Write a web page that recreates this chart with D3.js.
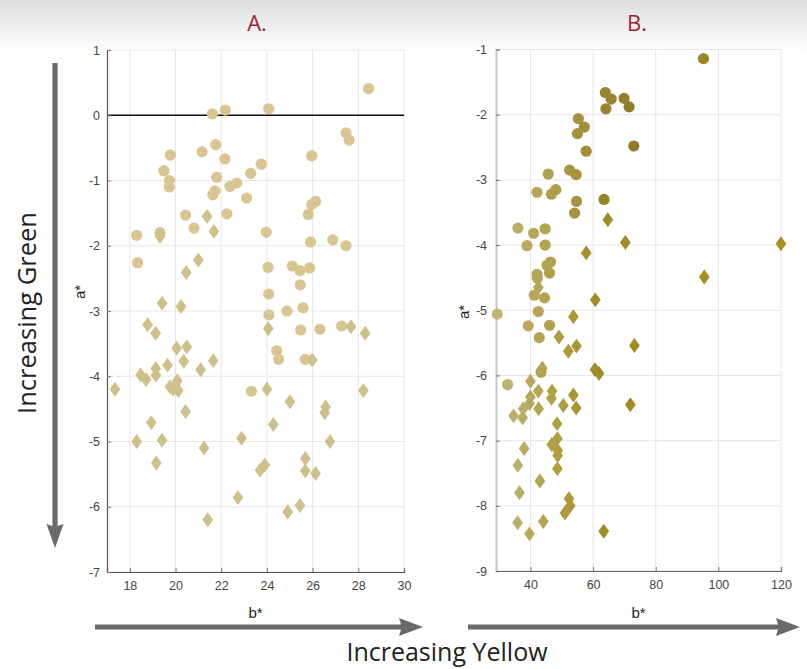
<!DOCTYPE html>
<html><head><meta charset="utf-8">
<script src="https://cdn.jsdelivr.net/npm/d3@7"></script>
<style>body{margin:0;background:#fff}svg{display:block}</style>
</head><body>
<svg id="c" width="807" height="669"></svg>
<script>
// ---------- DATA ----------
const titles = ["A.", "B."];
const xTicksA = [18, 20, 22, 24, 26, 28, 30];
const yTicksA = [1, 0, -1, -2, -3, -4, -5, -6, -7];
const xTicksB = [40, 60, 80, 100, 120];
const yTicksB = [-1, -2, -3, -4, -5, -6, -7, -8, -9];

// Panel A: circles
const aCircB = [28.45,21.61,22.18,24.08,27.46,27.60,19.77,21.16,21.76,22.16,25.96,19.49,19.73,19.73,21.8,23.75,23.29,22.68,22.38,21.73,21.63,23.11,26.13,25.96,25.81,20.44,22.25,18.30,19.32,20.81,23.97,25.91,26.88,27.46,18.34,24.05,25.11,25.45,25.87,25.46,24.08,24.88,25.58,24.09,25.48,26.32,27.27,24.43,24.51,25.68,23.32];
const aCircA = [0.41,0.02,0.08,0.10,-0.27,-0.38,-0.61,-0.56,-0.45,-0.67,-0.62,-0.85,-1.00,-1.10,-0.95,-0.75,-0.89,-1.04,-1.09,-1.16,-1.22,-1.27,-1.32,-1.37,-1.52,-1.53,-1.51,-1.84,-1.80,-1.73,-1.79,-1.94,-1.91,-2.0,-2.26,-2.33,-2.31,-2.38,-2.34,-2.60,-2.74,-3.00,-2.95,-3.06,-3.29,-3.28,-3.23,-3.61,-3.74,-3.74,-4.23];
// Panel A: diamonds
const aDiamB = [21.38,19.32,21.68,21.0,20.47,19.41,20.24,18.78,19.13,24.06,27.68,28.30,20.05,20.49,25.98,20.36,21.65,19.65,19.13,21.10,18.47,18.71,19.14,20.08,17.35,19.76,19.9,20.12,24.0,28.22,25.01,26.57,26.53,20.44,18.94,24.28,22.89,18.30,19.41,26.76,21.25,25.68,19.16,23.91,23.70,25.68,26.13,22.73,25.45,24.91,21.41];
const aDiamA = [-1.55,-1.86,-1.78,-2.22,-2.41,-2.88,-2.93,-3.21,-3.34,-3.27,-3.24,-3.34,-3.57,-3.55,-3.75,-3.77,-3.76,-3.83,-3.88,-3.90,-3.98,-4.05,-3.98,-4.07,-4.20,-4.16,-4.2,-4.22,-4.20,-4.22,-4.39,-4.47,-4.56,-4.54,-4.71,-4.74,-4.95,-5.00,-4.98,-5.00,-5.10,-5.26,-5.33,-5.36,-5.44,-5.45,-5.49,-5.86,-5.98,-6.08,-6.20];

// Panel B: circles
const bCircB = [95.24,63.9,65.8,69.9,71.5,64.1,55.3,57.2,55.0,73.0,57.8,45.7,52.5,54.6,42.1,46.7,48.1,54.7,63.5,54.1,36.0,41.0,44.7,38.9,44.7,46.4,45.3,46.1,42.1,42.2,41.2,44.5,29.4,42.5,39.3,46.1,42.8,43.4,32.7];
const bCircA = [-1.14,-1.66,-1.76,-1.75,-1.88,-1.91,-2.06,-2.19,-2.29,-2.48,-2.56,-2.91,-2.85,-2.92,-3.19,-3.22,-3.15,-3.33,-3.30,-3.51,-3.74,-3.82,-3.75,-4.01,-4.00,-4.26,-4.31,-4.43,-4.45,-4.51,-4.77,-4.81,-5.06,-5.02,-5.24,-5.23,-5.42,-5.95,-6.14];
// Panel B: diamonds
const bDiamB = [64.7,70.3,57.8,120,42.5,95.5,60.7,53.7,49.1,73.2,54.7,52.1,43.8,60.6,61.9,40.0,42.5,46.9,46.7,53.7,50.5,54.6,71.9,40.0,39.7,37.7,42.6,34.6,37.5,48.5,48.6,46.8,48.7,48.7,38.0,36.0,48.6,43.0,36.5,52.3,52.7,51.0,35.9,44.1,39.7,63.4];
const bDiamA = [-3.61,-3.96,-4.12,-3.98,-4.65,-4.49,-4.84,-5.10,-5.41,-5.54,-5.55,-5.63,-5.89,-5.91,-5.97,-6.09,-6.24,-6.24,-6.35,-6.30,-6.46,-6.50,-6.45,-6.33,-6.43,-6.51,-6.51,-6.62,-6.65,-6.74,-6.97,-7.06,-7.15,-7.23,-7.12,-7.38,-7.43,-7.62,-7.80,-7.89,-8.00,-8.11,-8.26,-8.24,-8.43,-8.39];

// ---------- DRAW ----------
const svg = d3.select("#c");
const defs = svg.append("defs");
const grad = defs.append("linearGradient").attr("id","bg").attr("x1",0).attr("y1",0).attr("x2",0).attr("y2",1);
grad.append("stop").attr("offset","0%").attr("stop-color","#dcdddf");
grad.append("stop").attr("offset","100%").attr("stop-color","#ffffff");
svg.append("rect").attr("width",807).attr("height",669).attr("fill","#fff");
svg.append("rect").attr("width",807).attr("height",52).attr("fill","url(#bg)");

const FONT = "'Liberation Sans', Arial, Helvetica, sans-serif";
const BIG = "'Open Sans', Lato, sans-serif";

const zip = (xs, ys) => xs.map((v, i) => ({b: v, a: ys[i]}));

function panel(cfg) {
  const x = d3.scaleLinear().domain(cfg.xDom).range(cfg.xRange);
  const y = d3.scaleLinear().domain(cfg.yDom).range(cfg.yRange);
  const g = svg.append("g");
  // grid
  g.append("g").selectAll("line").data(cfg.xTicks).join("line")
    .attr("x1", d => x(d)).attr("x2", d => x(d))
    .attr("y1", cfg.yRange[0]).attr("y2", cfg.yRange[1])
    .attr("stroke", "#e6e6e6").attr("stroke-width", 1);
  g.append("g").selectAll("line").data(cfg.yTicks).join("line")
    .attr("y1", d => y(d)).attr("y2", d => y(d))
    .attr("x1", cfg.xRange[0]).attr("x2", cfg.xRange[1])
    .attr("stroke", "#e6e6e6").attr("stroke-width", 1);
  if (cfg.zeroLine) {
    g.append("line").attr("x1", cfg.xRange[0]).attr("x2", cfg.xRange[1])
      .attr("y1", y(0)).attr("y2", y(0)).attr("stroke", "#111").attr("stroke-width", 1.6);
  }
  // axes
  const ax = g.append("g").attr("transform", `translate(0,${cfg.yRange[1]})`)
    .call(d3.axisBottom(x).tickValues(cfg.xTicks).tickSize(-4).tickPadding(9).tickFormat(d => String(d)));
  const ay = g.append("g").attr("transform", `translate(${cfg.xRange[0]},0)`)
    .call(d3.axisLeft(y).tickValues(cfg.yTicks).tickSize(-4).tickPadding(cfg.yPad).tickFormat(d => String(d)));
  [ax, ay].forEach(a => {
    a.selectAll("text").attr("font-family", FONT).attr("font-size", 12.5).attr("fill", "#444");
    a.selectAll(".tick line").attr("stroke", "#777");
  });
  ax.select(".domain").attr("stroke", cfg.xAxisColor).attr("stroke-width", 1.2);
  ay.select(".domain").attr("stroke", cfg.yAxisColor).attr("stroke-width", cfg.yAxisWidth);
  // marks
  const pts = g.append("g");
  pts.selectAll("circle").data(zip(cfg.circB, cfg.circA)).join("circle")
    .attr("cx", d => x(d.b)).attr("cy", d => y(d.a)).attr("r", 5.6)
    .attr("fill", d => cfg.circColor(d));
  pts.selectAll("path").data(zip(cfg.diamB, cfg.diamA)).join("path")
    .attr("d", d3.symbol().type(d3.symbolDiamond).size(64))
    .attr("transform", d => `translate(${x(d.b)},${y(d.a)}) scale(1.25,1)`)
    .attr("fill", d => cfg.diamColor(d));
  // labels
  svg.append("text").attr("x", (cfg.xRange[0] + cfg.xRange[1]) / 2).attr("y", 612)
    .attr("text-anchor", "middle").attr("dominant-baseline", "central")
    .attr("font-family", FONT).attr("font-size", 15).attr("fill", "#222").text("b*");
  svg.append("text").attr("transform", `translate(${cfg.aLab[0]},${cfg.aLab[1]}) rotate(-90)`)
    .attr("text-anchor", "middle").attr("dominant-baseline", "central")
    .attr("font-family", FONT).attr("font-size", 15).attr("fill", "#222").text("a*");
  svg.append("text").attr("x", cfg.titleX).attr("y", 22)
    .attr("text-anchor", "middle").attr("dominant-baseline", "central")
    .attr("font-family", BIG).attr("font-size", 22).attr("fill", "#a31f2c").text(cfg.title);
}

const colB = d3.scaleLinear().domain([30, 45, 60, 72, 120])
  .range(["#c2b57a", "#b3a24f", "#9f8a31", "#8e7a2b", "#a8921e"]).clamp(true);
const colBd = d3.scaleLinear().domain([34, 48, 62, 120])
  .range(["#bcb06e", "#b0a041", "#a08b25", "#a8921e"]).clamp(true);

panel({
  title: titles[0], titleX: 257,
  xDom: [17, 30], xRange: [107, 404], yDom: [1, -7], yRange: [50, 572],
  xTicks: xTicksA, yTicks: yTicksA, yPad: 7, zeroLine: true,
  xAxisColor: "#555", yAxisColor: "#555", yAxisWidth: 1.2,
  circB: aCircB, circA: aCircA, diamB: aDiamB, diamA: aDiamA,
  circColor: () => "#d8c592", diamColor: () => "#cdc08a",
  aLab: [79, 292]
});
panel({
  title: titles[1], titleX: 637,
  xDom: [29, 120], xRange: [496, 781], yDom: [-1, -9], yRange: [49.5, 571],
  xTicks: xTicksB, yTicks: yTicksB, yPad: 9, zeroLine: false,
  xAxisColor: "#666", yAxisColor: "#c6c6c6", yAxisWidth: 2,
  circB: bCircB, circA: bCircA, diamB: bDiamB, diamA: bDiamA,
  circColor: d => colB(d.b), diamColor: d => colBd(d.b),
  aLab: [463, 312]
});

// arrows
const AR = "#6a6a6b";
function hArrow(x0, x1, yc) {
  const p = d3.path();
  p.moveTo(x0, yc - 2.6); p.lineTo(x1 - 22, yc - 2.6); p.lineTo(x1 - 24, yc - 9);
  p.lineTo(x1, yc); p.lineTo(x1 - 24, yc + 9); p.lineTo(x1 - 22, yc + 2.6); p.lineTo(x0, yc + 2.6); p.closePath();
  svg.append("path").attr("d", p.toString()).attr("fill", AR);
}
function vArrow(xc, y0, y1) {
  const p = d3.path();
  p.moveTo(xc - 2.6, y0); p.lineTo(xc - 2.6, y1 - 22); p.lineTo(xc - 8.5, y1 - 24);
  p.lineTo(xc, y1); p.lineTo(xc + 8.5, y1 - 24); p.lineTo(xc + 2.6, y1 - 22); p.lineTo(xc + 2.6, y0); p.closePath();
  svg.append("path").attr("d", p.toString()).attr("fill", AR);
}
hArrow(95, 423, 627);
hArrow(468, 800, 627);
vArrow(55, 63, 548);

svg.append("text").attr("x", 447).attr("y", 651).attr("text-anchor", "middle").attr("dominant-baseline", "central")
  .attr("font-family", BIG).attr("font-size", 25).attr("fill", "#222").text("Increasing Yellow");
svg.append("text").attr("transform", "translate(26,313) rotate(-90)").attr("text-anchor", "middle").attr("dominant-baseline", "central")
  .attr("font-family", BIG).attr("font-size", 25.5).attr("fill", "#222").text("Increasing Green");
</script>
</body></html>
